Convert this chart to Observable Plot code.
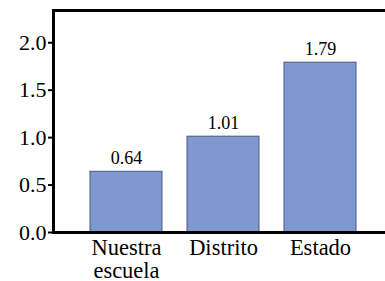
<!DOCTYPE html>
<html><head><meta charset="utf-8">
<script src="https://cdn.jsdelivr.net/npm/d3@7"></script>
<script src="https://cdn.jsdelivr.net/npm/@observablehq/plot@0.6"></script>
<style>body{margin:0;background:#fff}</style>
</head><body><div id="chart"></div>
<script>
const categories = ["Nuestra\nescuela", "Distrito", "Estado"];
const values = [0.64, 1.01, 1.79];
const yTicks = [0, 0.5, 1.0, 1.5, 2.0];
const data = categories.map((c, i) => ({cat: c, v: values[i]}));
const serif = "Liberation Serif, Times New Roman, serif";
const chart = Plot.plot({
  width: 385, height: 281,
  marginLeft: 53, marginRight: 0, marginTop: 10, marginBottom: 49,
  style: {fontFamily: serif, background: "#fff", color: "#000"},
  x: {domain: categories, paddingInner: 0.255, paddingOuter: 0.3214, align: 0.556, label: null},
  y: {domain: [0, 2.34], label: null},
  marks: [
    Plot.barY(data, {x: "cat", y: "v", fill: "#7f98cf", stroke: "#4b5a7d", strokeWidth: 1}),
    Plot.text(data, {x: "cat", y: "v", text: d => d.v.toFixed(2), lineAnchor: "bottom", dy: -8, fontSize: 18, fill: "#000"}),
    Plot.axisY({ticks: yTicks, tickFormat: d3.format(".1f"), tickSize: 5, tickPadding: 2, fontSize: 22, strokeWidth: 2, label: null}),
    Plot.axisX({tickSize: 0, tickPadding: 6, fontSize: 22.5, lineHeight: 1.02, label: null}),
    Plot.ruleY([0], {strokeWidth: 3}),
    Plot.ruleY([2.34], {strokeWidth: 3}),
    Plot.frame({anchor: "left", strokeWidth: 3})
  ]
});
document.getElementById("chart").appendChild(chart);
</script></body></html>
